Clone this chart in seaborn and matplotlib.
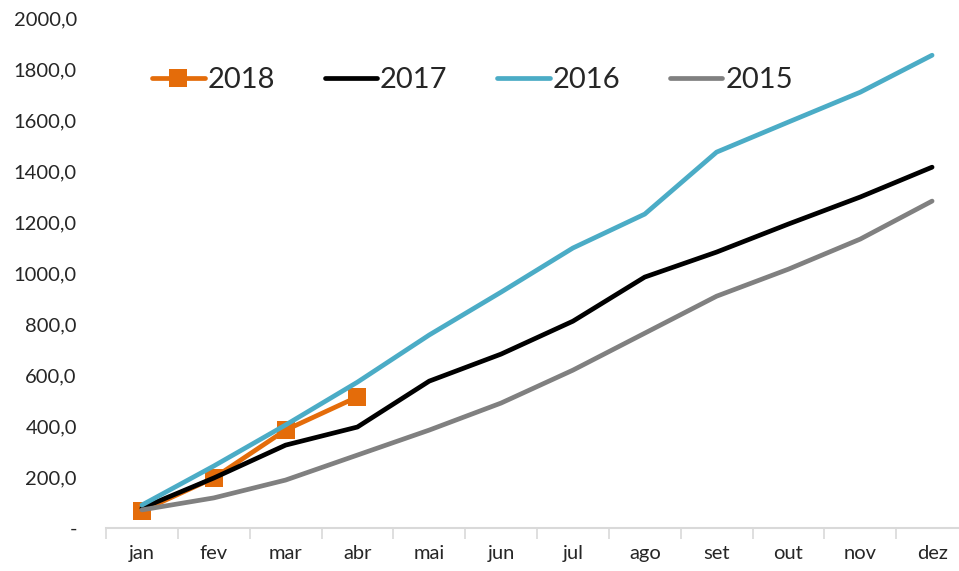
import seaborn as sns
import matplotlib.pyplot as plt
import matplotlib.ticker as mticker
import pandas as pd
import numpy as np

months = ['jan', 'fev', 'mar', 'abr', 'mai', 'jun', 'jul', 'ago', 'set', 'out', 'nov', 'dez']
y2018 = [67, 196, 384, 514]
y2017 = [78, 196, 325, 396, 576, 682, 811, 984, 1082, 1192, 1298, 1415]
y2016 = [90, 243, 404, 572, 757, 925, 1098, 1231, 1474, 1592, 1709, 1854]
y2015 = [71, 118, 188, 286, 384, 490, 619, 764, 909, 1015, 1133, 1282]

series = [
    ('2018', y2018, '#E46C0A', 's'),
    ('2017', y2017, '#000000', None),
    ('2016', y2016, '#4BACC6', None),
    ('2015', y2015, '#808080', None),
]

sns.set_theme(style='white')
plt.rcParams['font.family'] = ['Lato', 'DejaVu Sans']

fig = plt.figure(figsize=(9.59, 5.71), dpi=100)
ax = fig.add_axes([106 / 959, 43 / 571, 862 / 959, 510 / 571])

for name, vals, color, marker in series:
    df = pd.DataFrame({'x': np.arange(len(vals)), 'y': vals})
    sns.lineplot(data=df, x='x', y='y', ax=ax, color=color, linewidth=3.4,
                 marker=marker, markersize=13 if marker else 0,
                 markeredgewidth=0, label=name)

ax.set_xlim(-0.5, 11.5)
ax.set_ylim(0, 2000)
ax.set_yticks(np.arange(0, 2001, 200))
ax.yaxis.set_major_formatter(mticker.FuncFormatter(
    lambda v, p: '-' if v == 0 else f'{v:.1f}'.replace('.', ',')))

# category boundaries as ticks, labels centred on categories
ax.set_xticks(np.arange(-0.5, 12, 1))
ax.set_xticklabels([])
ax.set_xticks(np.arange(12), minor=True)
ax.set_xticklabels(months, minor=True)
ax.tick_params(axis='x', which='major', length=8, width=1.2, color='#d9d9d9', direction='out', bottom=True)
ax.tick_params(axis='x', which='minor', length=0, labelsize=14.5, pad=12)
ax.tick_params(axis='y', length=0, labelsize=14.5, pad=21)
ax.set_xlabel('')
ax.set_ylabel('')

for s in ['top', 'right', 'left']:
    ax.spines[s].set_visible(False)
ax.spines['bottom'].set_color('#d9d9d9')
ax.spines['bottom'].set_linewidth(1.5)

ax.legend(loc='center left', bbox_to_anchor=(0.04, 0.878), ncol=4, frameon=False,
          fontsize=21, handlelength=1.8, handletextpad=0.1, columnspacing=1.7,
          borderaxespad=0)

plt.savefig('out.png', dpi=100)
